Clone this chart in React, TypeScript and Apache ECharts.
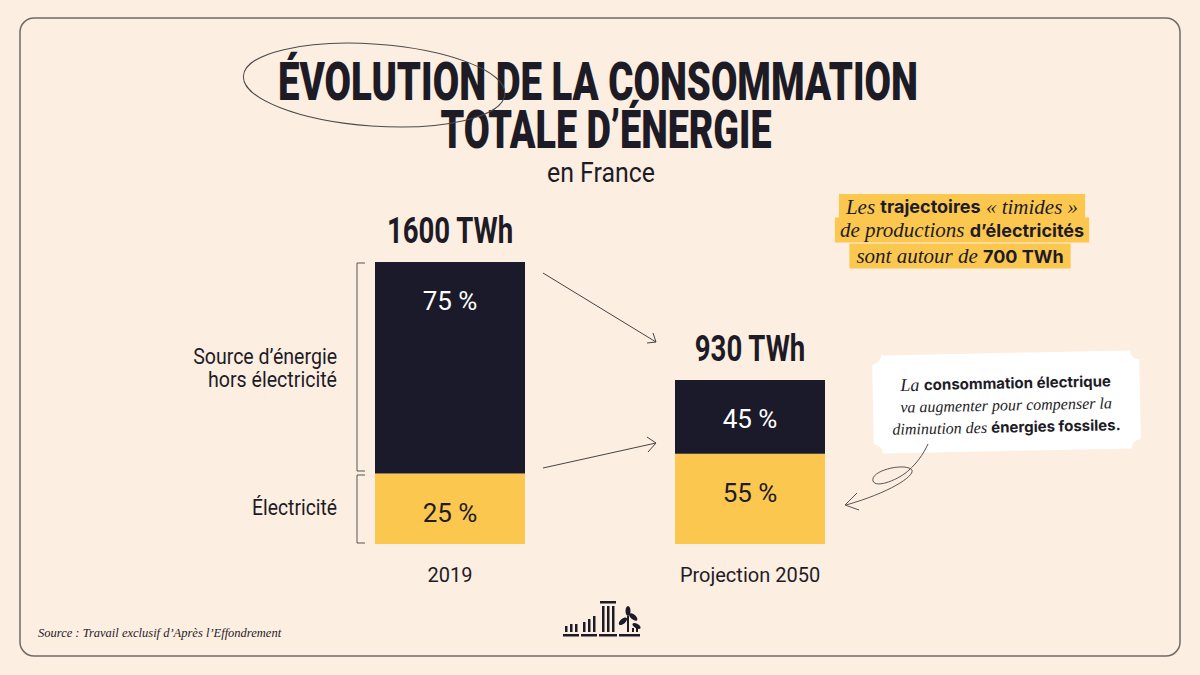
import React, { useEffect, useRef } from "react";
import * as echarts from "echarts";

// ---------- data ----------
const categories = ["2019", "Projection 2050"];
const totalsTWh = [1600, 930];
const shareNonElec = [75, 45]; // % "Source d'énergie hors électricité"
const shareElec = [25, 55]; // % "Électricité"
const totalLabels = ["1600 TWh", "930 TWh"];
const segmentNames = ["Électricité", "Source d’énergie hors électricité"];

const elecValues = totalsTWh.map((t, i) => (t * shareElec[i]) / 100);
const nonElecValues = totalsTWh.map((t, i) => (t * shareNonElec[i]) / 100);

// ---------- style ----------
const BG = "#fdeee2";
const DARK = "#1b1a2a";
const INK = "#1d1c26";
const YELLOW = "#fbc74f";
const COND = "Roboto, 'Noto Sans', sans-serif";
const SERIF = "'Liberation Serif', 'DejaVu Serif', serif";
const SANS = "Inter, Roboto, 'Noto Sans', sans-serif";

function measureWidth(text: string, font: string): number {
  const ctx = document.createElement("canvas").getContext("2d");
  if (!ctx) return text.length * 10;
  ctx.font = font;
  return ctx.measureText(text).width;
}

function condText(o: {
  text: string; x: number; y: number; size: number; weight: string | number;
  scaleX: number; align: "left" | "center" | "right"; color: string;
}) {
  return {
    type: "text",
    x: o.x,
    y: o.y,
    scaleX: o.scaleX,
    style: {
      text: o.text,
      fontSize: o.size,
      fontWeight: o.weight,
      fontFamily: "Roboto",
      fill: o.color,
      align: o.align,
      verticalAlign: "middle",
    },
  };
}

function fitText(o: {
  text: string; x: number; y: number; size: number; weight: string | number;
  width: number; align: "left" | "center" | "right"; color: string;
}) {
  const w = measureWidth(o.text, `${o.weight} ${o.size}px Roboto`);
  return condText({ ...o, scaleX: o.width / w });
}

function ticketPoints(x0: number, y0: number, x1: number, y1: number, r: number) {
  const pts: number[][] = [];
  const n = 6;
  for (let k = 0; k <= n; k++) {
    const a = (k / n) * (Math.PI / 2);
    pts.push([x1 - r * Math.cos(a), y0 + r * Math.sin(a)]);
  }
  for (let k = 0; k <= n; k++) {
    const a = (k / n) * (Math.PI / 2);
    pts.push([x1 - r * Math.sin(a), y1 - r * Math.cos(a)]);
  }
  for (let k = 0; k <= n; k++) {
    const a = (k / n) * (Math.PI / 2);
    pts.push([x0 + r * Math.cos(a), y1 - r * Math.sin(a)]);
  }
  for (let k = 0; k <= n; k++) {
    const a = (k / n) * (Math.PI / 2);
    pts.push([x0 + r * Math.sin(a), y0 + r * Math.cos(a)]);
  }
  return pts;
}

const CURL_PATH =
  "M 928 444 C 923 455 916 464 909 470 C 900 479 876 489 873 481 C 870 471 902 463 911 469 C 918 474 892 492 846 505 M 857 493 L 845 505 L 859 510";
let curlRegistered = false;

export default function App() {
  const ref = useRef<HTMLDivElement>(null);

  useEffect(() => {
    document.body.style.margin = "0";
    if (!curlRegistered) {
      echarts.graphic.registerShape("curlArrow", echarts.graphic.extendPath(CURL_PATH, {}) as any);
      curlRegistered = true;
    }
    const chart = echarts.init(ref.current!, undefined, { renderer: "svg" });

    const pctLabel = (shares: number[], color: string) => ({
      show: true,
      position: "insideTop",
      distance: 26,
      color,
      fontFamily: COND,
      fontSize: 26,
      formatter: (p: any) => `${shares[p.dataIndex]} %`,
    });

    chart.setOption({
      animation: false,
      backgroundColor: BG,
      grid: { left: 300, right: 300, top: 262, bottom: 131, containLabel: false },
      xAxis: {
        type: "category",
        data: categories,
        axisLine: { show: false },
        axisTick: { show: false },
        axisLabel: { color: INK, fontFamily: COND, fontSize: 20, margin: 21 },
      },
      yAxis: {
        type: "value",
        min: 0,
        max: totalsTWh[0],
        show: false,
        splitLine: { show: false },
      },
      series: [
        {
          name: segmentNames[0],
          type: "bar",
          stack: "total",
          barWidth: 150,
          data: elecValues,
          itemStyle: { color: YELLOW },
          label: pctLabel(shareElec, INK),
        },
        {
          name: segmentNames[1],
          type: "bar",
          stack: "total",
          barWidth: 150,
          data: nonElecValues,
          itemStyle: { color: DARK },
          label: pctLabel(shareNonElec, "#ffffff"),
        },
      ],
    });

    // total labels placed at the top of each stack, through the chart's own scales
    const totalScale = 127 / measureWidth(totalLabels[0], "bold 36px Roboto");
    const totalTexts = totalsTWh.map((t, i) => {
      const [px, py] = chart.convertToPixel({ gridIndex: 0 }, [i, t]) as number[];
      return condText({ text: totalLabels[i], x: px, y: py - 31, size: 36, weight: "bold", scaleX: totalScale, align: "center", color: INK });
    });

    const rich = (iSize: number, bSize: number) => ({
      i: { fontFamily: SERIF, fontStyle: "italic", fontSize: iSize, fill: INK },
      b: { fontFamily: SANS, fontWeight: "bold", fontSize: bSize, fill: INK },
    });

    const graphic: any[] = [
      // frame
      {
        type: "rect",
        shape: { x: 20, y: 18, width: 1160, height: 638, r: 14 },
        style: { fill: "none", stroke: "#6f6a66", lineWidth: 1.5 },
        silent: true,
      },
      // title
      fitText({ text: "ÉVOLUTION DE LA CONSOMMATION", x: 598, y: 82, size: 53, weight: 900, width: 640, align: "center", color: INK }),
      fitText({ text: "TOTALE D’ÉNERGIE", x: 606, y: 130, size: 53, weight: 900, width: 331, align: "center", color: INK }),
      fitText({ text: "en France", x: 601, y: 173, size: 27, weight: "normal", width: 108, align: "center", color: INK }),
      {
        type: "ellipse",
        shape: { cx: 374, cy: 85, rx: 131, ry: 41 },
        rotation: -0.07,
        originX: 374,
        originY: 85,
        style: { fill: "none", stroke: "#4a4a4a", lineWidth: 1 },
      },
      ...totalTexts,
      // left labels
      fitText({ text: "Source d’énergie", x: 337, y: 357, size: 22, weight: "normal", width: 144, align: "right", color: INK }),
      fitText({ text: "hors électricité", x: 337, y: 380, size: 22, weight: "normal", width: 129, align: "right", color: INK }),
      fitText({ text: "Électricité", x: 337, y: 508, size: 22, weight: "normal", width: 85, align: "right", color: INK }),
      // brackets
      {
        type: "polyline",
        shape: { points: [[365, 263], [357, 263], [357, 471], [365, 471]] },
        style: { fill: "none", stroke: "#555", lineWidth: 1 },
      },
      {
        type: "polyline",
        shape: { points: [[365, 475], [357, 475], [357, 543], [365, 543]] },
        style: { fill: "none", stroke: "#555", lineWidth: 1 },
      },
      // arrows between bars
      { type: "line", shape: { x1: 543, y1: 273, x2: 656, y2: 342 }, style: { stroke: "#444", lineWidth: 1 } },
      { type: "polyline", shape: { points: [[647, 343], [656, 342], [653, 333]] }, style: { fill: "none", stroke: "#444", lineWidth: 1 } },
      { type: "line", shape: { x1: 543, y1: 468, x2: 656, y2: 443 }, style: { stroke: "#444", lineWidth: 1 } },
      { type: "polyline", shape: { points: [[647, 437], [656, 443], [648, 452]] }, style: { fill: "none", stroke: "#444", lineWidth: 1 } },
      // yellow annotation
      {
        type: "text",
        x: 962,
        y: 206,
        style: {
          text: "{i|Les }{b|trajectoires}{i| « timides »}",
          align: "center",
          verticalAlign: "middle",
          backgroundColor: YELLOW,
          padding: [2, 7, 1, 7],
          rich: rich(21, 18),
        },
      },
      {
        type: "text",
        x: 962,
        y: 230,
        style: {
          text: "{i|de productions }{b|d’électricités}",
          align: "center",
          verticalAlign: "middle",
          backgroundColor: YELLOW,
          padding: [2, 5, 2, 5],
          rich: rich(21, 18),
        },
      },
      {
        type: "text",
        x: 960,
        y: 256,
        style: {
          text: "{i|sont autour de }{b|700 TWh}",
          align: "center",
          verticalAlign: "middle",
          backgroundColor: YELLOW,
          padding: [2, 7, 2, 7],
          rich: rich(21, 18),
        },
      },
      // note box
      {
        type: "group",
        x: 1006,
        y: 402,
        rotation: 0.02,
        children: [
          {
            type: "polygon",
            shape: { points: ticketPoints(-133, -49, 134, 49, 9) },
            style: { fill: "#ffffff" },
          },
          {
            type: "text",
            x: 0,
            y: -19,
            style: {
              text: "{i|La }{b|consommation électrique}",
              align: "center",
              verticalAlign: "middle",
              rich: rich(18, 15),
            },
          },
          {
            type: "text",
            x: 0,
            y: 3,
            style: {
              text: "va augmenter pour compenser la",
              align: "center",
              verticalAlign: "middle",
              fontFamily: SERIF,
              fontStyle: "italic",
              fontSize: 16,
              fill: INK,
            },
          },
          {
            type: "text",
            x: 0,
            y: 25,
            style: {
              text: "{i|diminution des }{b|énergies fossiles.}",
              align: "center",
              verticalAlign: "middle",
              rich: rich(16, 15),
            },
          },
        ],
      },
      // curly arrow
      { type: "curlArrow", x: 0, y: 0, style: { fill: "none", stroke: "#555", lineWidth: 1 } },
      // source
      {
        type: "text",
        x: 38,
        y: 633,
        style: {
          text: "Source : Travail exclusif d’Après l’Effondrement",
          fontFamily: SERIF,
          fontStyle: "italic",
          fontSize: 12.5,
          fill: INK,
          align: "left",
          verticalAlign: "middle",
        },
      },
      // logo
      {
        type: "group",
        x: 0,
        y: 0,
        children: [
          { type: "rect", shape: { x: 563, y: 634, width: 16, height: 2.5 }, style: { fill: INK } },
          { type: "rect", shape: { x: 565, y: 626, width: 2.5, height: 6 }, style: { fill: INK } },
          { type: "rect", shape: { x: 570, y: 624, width: 2.5, height: 8 }, style: { fill: INK } },
          { type: "rect", shape: { x: 575, y: 624, width: 2.5, height: 8 }, style: { fill: INK } },
          { type: "rect", shape: { x: 581, y: 634, width: 16, height: 2.5 }, style: { fill: INK } },
          { type: "rect", shape: { x: 583, y: 622, width: 2.5, height: 10 }, style: { fill: INK } },
          { type: "rect", shape: { x: 588, y: 619, width: 2.5, height: 13 }, style: { fill: INK } },
          { type: "rect", shape: { x: 593, y: 616, width: 2.5, height: 16 }, style: { fill: INK } },
          { type: "rect", shape: { x: 599, y: 634, width: 18, height: 2.5 }, style: { fill: INK } },
          { type: "rect", shape: { x: 600, y: 601, width: 16, height: 2.5 }, style: { fill: INK } },
          { type: "rect", shape: { x: 602, y: 606, width: 2.5, height: 26 }, style: { fill: INK } },
          { type: "rect", shape: { x: 607, y: 606, width: 2.5, height: 26 }, style: { fill: INK } },
          { type: "rect", shape: { x: 612, y: 606, width: 2.5, height: 26 }, style: { fill: INK } },
          { type: "rect", shape: { x: 619, y: 634, width: 21, height: 2.5 }, style: { fill: INK } },
          { type: "rect", shape: { x: 627, y: 616, width: 2, height: 16 }, style: { fill: INK } },
          { type: "ellipse", shape: { cx: 623, cy: 621, rx: 5, ry: 2.5 }, rotation: 0.7, originX: 623, originY: 621, style: { fill: INK } },
          { type: "ellipse", shape: { cx: 633, cy: 617, rx: 5, ry: 2.5 }, rotation: -0.7, originX: 633, originY: 617, style: { fill: INK } },
          { type: "ellipse", shape: { cx: 628, cy: 611, rx: 2.5, ry: 5 }, style: { fill: INK } },
          { type: "ellipse", shape: { cx: 636, cy: 626, rx: 4.5, ry: 2.2 }, rotation: -0.5, originX: 636, originY: 626, style: { fill: INK } },
          { type: "rect", shape: { x: 632, y: 628, width: 2, height: 4 }, style: { fill: INK } },
          { type: "rect", shape: { x: 636, y: 628, width: 2, height: 4 }, style: { fill: INK } },
        ],
      },
    ];

    chart.setOption({ graphic });

    return () => chart.dispose();
  }, []);

  return <div ref={ref} style={{ width: 1200, height: 675 }} />;
}
